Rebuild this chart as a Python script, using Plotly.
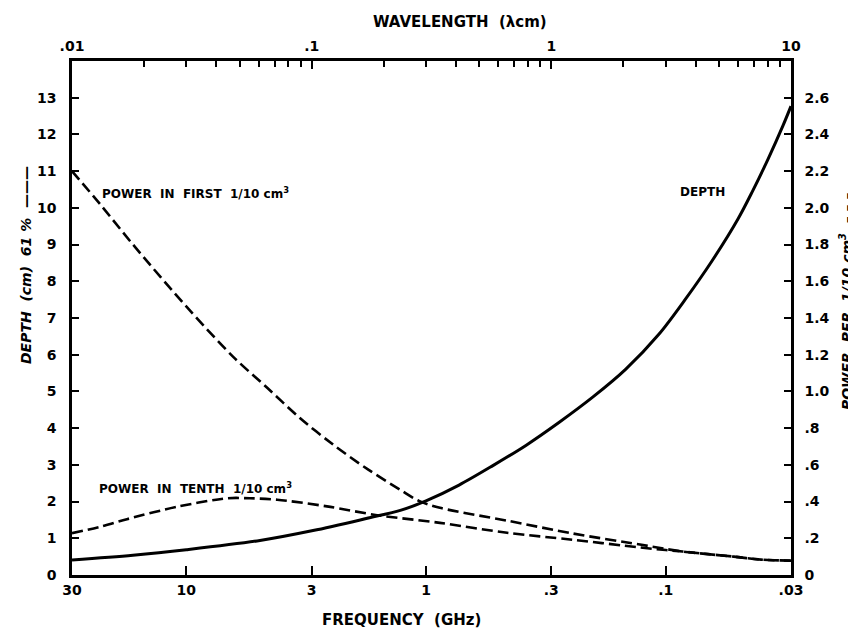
import plotly.graph_objects as go

# ---- data ----
freq_depth = [30, 16.7, 10, 4.93, 2.96, 1.72, 1.28, 1.0, 0.728, 0.526, 0.383, 0.278,
              0.201, 0.147, 0.107, 0.083, 0.064, 0.050, 0.0436, 0.0374, 0.0324, 0.03]
depth_cm = [0.41, 0.54, 0.69, 0.94, 1.21, 1.56, 1.76, 2.02, 2.45, 2.98, 3.53, 4.16,
            4.85, 5.60, 6.55, 7.50, 8.56, 9.69, 10.43, 11.33, 12.24, 12.77]

freq_first = [30, 22.9, 16.7, 9.9, 6.39, 4.6, 3.35, 2.44, 1.76, 1.28, 1.07, 0.875, 0.459,
              0.244, 0.128, 0.1, 0.085, 0.072, 0.052, 0.040, 0.03]
power_first = [2.20, 2.02, 1.80, 1.456, 1.19, 1.02, 0.854, 0.71, 0.578, 0.464, 0.404, 0.366,
               0.296, 0.226, 0.166, 0.142, 0.128, 0.118, 0.100, 0.084, 0.078]

freq_tenth = [30, 22.9, 17.7, 10.9, 6.77, 5.43, 4.18, 2.59, 1.60, 0.875, 0.459, 0.244,
              0.128, 0.1, 0.085, 0.072, 0.052, 0.040, 0.03]
power_tenth = [0.228, 0.262, 0.304, 0.372, 0.418, 0.418, 0.41, 0.374, 0.326, 0.284, 0.23, 0.192,
               0.15, 0.136, 0.128, 0.118, 0.100, 0.084, 0.078]

freq_ticks = [30, 10, 3, 1, 0.3, 0.1, 0.03]
freq_labels = ["30", "10", "3", "1", ".3", ".1", ".03"]
wl_ticks = [0.01, 0.1, 1, 10]
wl_labels = [".01", ".1", "1", "10"]
wl_minor = [k * 10.0 ** e for e in (-2, -1, 0) for k in range(2, 10)]
depth_ticks = list(range(0, 14))
power_ticks = [0, 0.2, 0.4, 0.6, 0.8, 1.0, 1.2, 1.4, 1.6, 1.8, 2.0, 2.2, 2.4, 2.6]
power_labels = ["0", ".2", ".4", ".6", ".8", "1.0", "1.2", "1.4", "1.6", "1.8",
                "2.0", "2.2", "2.4", "2.6"]

FONT = "DejaVu Sans"
tickfont = dict(family=FONT, size=14, color="black", weight="bold")

fig = go.Figure()
fig.add_trace(go.Scatter(x=freq_depth, y=depth_cm, mode="lines", xaxis="x", yaxis="y",
                         line=dict(color="black", width=3, shape="spline", smoothing=0.9),
                         showlegend=False, hoverinfo="skip"))
fig.add_trace(go.Scatter(x=freq_first, y=power_first, mode="lines", xaxis="x", yaxis="y2",
                         line=dict(color="black", width=2.6, dash="11px,5px",
                                   shape="spline", smoothing=0.9),
                         showlegend=False, hoverinfo="skip"))
fig.add_trace(go.Scatter(x=freq_tenth, y=power_tenth, mode="lines", xaxis="x", yaxis="y2",
                         line=dict(color="black", width=2.6, dash="11px,5px",
                                   shape="spline", smoothing=0.9),
                         showlegend=False, hoverinfo="skip"))
# invisible trace to carry the wavelength axis
fig.add_trace(go.Scatter(x=wl_ticks, y=[None] * len(wl_ticks), xaxis="x2", yaxis="y",
                         mode="markers", marker=dict(opacity=0), showlegend=False,
                         hoverinfo="skip"))

axis_common = dict(showgrid=False, zeroline=False, showline=True, linecolor="black",
                   linewidth=2.5, ticks="inside", tickcolor="black", tickwidth=2,
                   tickfont=tickfont)

# page body has an 8px default margin, so the figure is sized to fit inside the window
fig.update_layout(
    width=848, height=625, autosize=False,
    margin=dict(l=64, r=65, t=53, b=58),
    paper_bgcolor="white", plot_bgcolor="white",
    xaxis=dict(type="log", range=[1.4771, -1.5229], tickmode="array",
               tickvals=freq_ticks, ticktext=freq_labels, ticklen=9,
               ticklabelstandoff=0, **axis_common),
    xaxis2=dict(type="log", range=[-2, 1], overlaying="x", side="top", anchor="y",
                tickmode="array", tickvals=wl_ticks, ticktext=wl_labels, ticklen=8,
                minor=dict(tickvals=wl_minor, ticks="inside", ticklen=6, tickwidth=2,
                           tickcolor="black", showgrid=False),
                ticklabelstandoff=2, **axis_common),
    yaxis=dict(range=[0, 14], tickmode="array", tickvals=depth_ticks, ticklen=7,
               ticklabelstandoff=10, **axis_common),
    yaxis2=dict(range=[0, 2.8], overlaying="y", side="right", anchor="x",
                tickmode="array", tickvals=power_ticks, ticktext=power_labels, ticklen=7,
                ticklabelstandoff=8, **axis_common),
)

ann_font = dict(family=FONT, size=12, color="black", weight="bold")
title_font = dict(family=FONT, size=15, color="black", weight="bold")
side_font = dict(family=FONT, size=14, color="black", weight="bold")
fig.add_annotation(text="WAVELENGTH  (λcm)", xref="paper", yref="paper", x=0.54, y=1.075,
                   xanchor="center", yanchor="middle", showarrow=False, font=title_font)
fig.add_annotation(text="FREQUENCY  (GHz)", xref="paper", yref="paper", x=0.4576, y=-0.088,
                   xanchor="center", yanchor="middle", showarrow=False, font=title_font)
fig.add_annotation(text="<i>DEPTH  (cm)  61 %</i>  ———", xref="paper", yref="paper",
                   x=-0.064, y=0.603, textangle=-90, xanchor="center", yanchor="middle",
                   showarrow=False, font=side_font)
fig.add_annotation(text="<i>POWER  PER  1/10 cm<sup>3</sup></i>  – – –", xref="paper",
                   yref="paper", x=1.0765, y=0.531, textangle=-90, xanchor="center",
                   yanchor="middle", showarrow=False, font=side_font)
fig.add_annotation(text="POWER  IN  FIRST  1/10 cm<sup>3</sup>", xref="paper", yref="paper",
                   x=0.039, y=0.743, xanchor="left", yanchor="middle", showarrow=False,
                   font=ann_font)
fig.add_annotation(text="DEPTH", xref="paper", yref="paper", x=0.8776, y=0.745,
                   xanchor="center", yanchor="middle", showarrow=False, font=ann_font)
fig.add_annotation(text="POWER  IN  TENTH  1/10 cm<sup>3</sup>", xref="paper", yref="paper",
                   x=0.035, y=0.169, xanchor="left", yanchor="middle", showarrow=False,
                   font=ann_font)

fig.write_html("out.html")
